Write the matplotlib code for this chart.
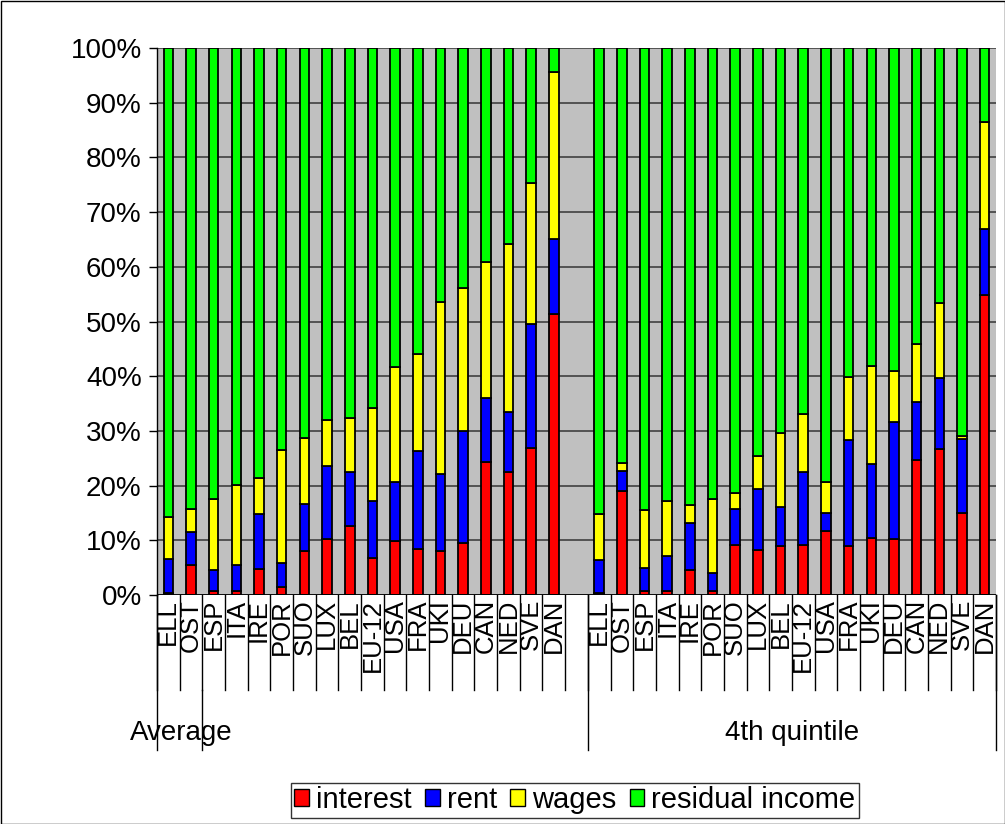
import matplotlib
matplotlib.use("Agg")
import matplotlib.pyplot as plt
import matplotlib.transforms as mtrans
from matplotlib.patches import Rectangle
from matplotlib.lines import Line2D
import numpy as np

plt.rcParams['font.family'] = ['Liberation Sans', 'DejaVu Sans']

countries = ["ELL", "OST", "ESP", "ITA", "IRE", "POR", "SUO", "LUX", "BEL",
             "EU-12", "USA", "FRA", "UKI", "DEU", "CAN", "NED", "SVE", "DAN"]
groups = ["Average", "4th quintile"]

# cumulative tops (%), Average group
avg_interest = [0.3, 5.5, 0.8, 0.7, 4.8, 1.5, 8.1, 10.3, 12.7, 6.8, 9.9, 8.4, 8.1, 9.5, 24.3, 22.4, 26.9, 51.4]
avg_rent_top = [6.5, 11.6, 4.6, 5.5, 14.8, 5.9, 16.6, 23.6, 22.4, 17.2, 20.7, 26.4, 22.2, 30.0, 36.1, 33.5, 49.5, 65.1]
avg_wage_top = [14.2, 15.7, 17.6, 20.1, 21.3, 26.5, 28.7, 32.0, 32.3, 34.1, 41.6, 44.1, 53.6, 56.1, 60.8, 64.2, 75.4, 95.6]

# 4th quintile group
q4_interest = [0.3, 19.1, 0.7, 0.7, 4.5, 0.8, 9.1, 8.2, 8.9, 9.1, 11.7, 8.9, 10.4, 10.2, 24.6, 26.7, 14.9, 54.8]
q4_rent_top = [6.4, 22.7, 5.0, 7.2, 13.2, 4.1, 15.7, 19.4, 16.0, 22.5, 15.0, 28.3, 23.9, 31.7, 35.2, 39.6, 28.5, 66.9]
q4_wage_top = [14.8, 24.1, 15.5, 17.2, 16.5, 17.5, 18.7, 25.5, 29.6, 33.0, 20.7, 39.8, 41.9, 41.0, 45.8, 53.4, 29.1, 86.5]

series = ["interest", "rent", "wages", "residual income"]
colors = ["#ff0000", "#0000ff", "#ffff00", "#00ff00"]

interest = np.array(avg_interest + q4_interest)
rent = np.array(avg_rent_top + q4_rent_top) - interest
wages = np.array(avg_wage_top + q4_wage_top) - interest - rent
resid = 100 - interest - rent - wages

n = len(countries)
x = np.concatenate([np.arange(n), np.arange(n) + n + 1])

fig = plt.figure(figsize=(10.05, 8.24), dpi=100)
ax = fig.add_axes([157 / 1005, 229 / 824, 839 / 1005, 547 / 824])
ax.set_facecolor("#c0c0c0")

bottom = np.zeros(len(x))
for vals, col, name in zip([interest, rent, wages, resid], colors, series):
    ax.bar(x, vals, bottom=bottom, width=0.42, color=col, edgecolor="black",
           linewidth=1.3, label=name, zorder=3)
    bottom = bottom + vals

ax.set_xlim(-0.5, 2 * n + 0.5)
ax.set_ylim(0, 100)
ax.set_yticks(np.arange(0, 101, 10))
ax.set_yticklabels([f"{v}%" for v in range(0, 101, 10)], fontsize=20)
ax.yaxis.grid(True, color="#404040", linewidth=1.2, zorder=0)
ax.set_axisbelow(True)
ax.set_xticks([])
ax.tick_params(axis="y", length=6, width=1, pad=5)
for s in ["top", "right", "bottom"]:
    ax.spines[s].set_visible(False)
ax.spines["left"].set_linewidth(1)

# category labels under the axis
trans = mtrans.blended_transform_factory(ax.transData, fig.transFigure)
for xi, lab in zip(x, countries + countries):
    ax.text(xi, 1 - 599 / 824, lab, transform=trans, rotation=90,
            ha="center", va="top", fontsize=18.5, clip_on=False)

# separator lines of the category axis
y0 = 1 - 595 / 824
y1 = 1 - 690 / 824
y2 = 1 - 750 / 824
for g in range(2):
    off = g * (n + 1)
    for k in range(n + 1):
        xl = off + k - 0.5
        ax.add_line(Line2D([xl, xl], [y0, y1], transform=trans, color="black",
                           linewidth=1, clip_on=False))
for xl in [-0.5, n + 0.5, 2 * n + 0.5]:
    ax.add_line(Line2D([xl, xl], [y0, y2], transform=trans, color="black",
                       linewidth=1, clip_on=False))
ax.add_line(Line2D([1.5, 1.5], [y1, y2], transform=trans, color="black",
                   linewidth=1, clip_on=False))
ax.axhline(0, color="black", linewidth=1.2, zorder=4)

fig.text(130 / 1005, 1 - 733 / 824, groups[0], ha="left", va="center", fontsize=20)
fig.text(792 / 1005, 1 - 733 / 824, groups[1], ha="center", va="center", fontsize=20)

handles = [Rectangle((0, 0), 1, 1, facecolor=c, edgecolor="black", linewidth=1)
           for c in colors]
leg = fig.legend(handles, series, loc="center", bbox_to_anchor=(575 / 1005, 24 / 824),
                 ncol=4, fontsize=21, frameon=True, fancybox=False, borderpad=0.12,
                 handlelength=0.5, handleheight=0.5, handletextpad=0.25,
                 columnspacing=0.45, borderaxespad=0)
leg.get_frame().set_edgecolor("black")
leg.get_frame().set_linewidth(1)

fig.patches.append(Rectangle((0.5 / 1005, 0.5 / 824), 1 - 1 / 1005, 1 - 1 / 824,
                             transform=fig.transFigure, fill=False,
                             edgecolor="black", linewidth=1))

fig.savefig("out.png", dpi=100)
